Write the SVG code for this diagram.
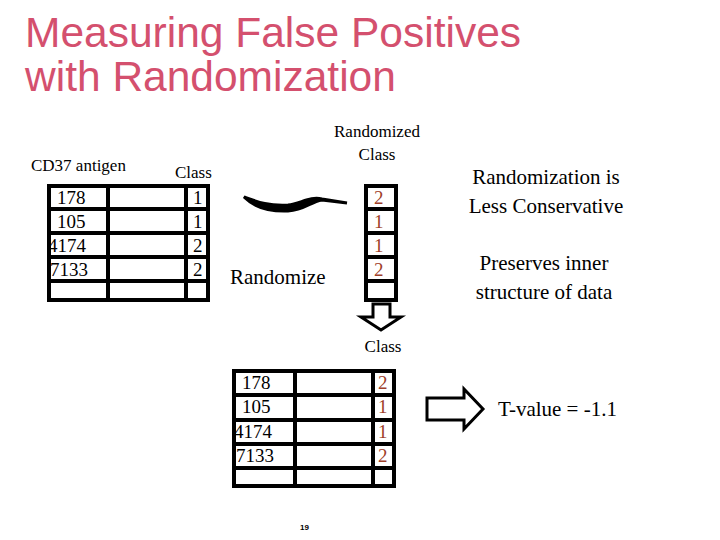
<svg xmlns="http://www.w3.org/2000/svg" width="720" height="540" viewBox="0 0 720 540">
<style>
text{font-family:"Liberation Serif","Times New Roman","DejaVu Serif",serif}
.t{fill:#000}
.r{fill:#a0402a}
.g{fill:none;stroke:#000;stroke-width:4}
text.ttl{font-family:"Liberation Sans",Arial,sans-serif;font-size:42.5px;fill:#d4506e}
</style>
<rect width="720" height="540" fill="#fff"/>
<text class="ttl" x="25" y="47">Measuring False Positives</text>
<text class="ttl" x="25" y="91">with Randomization</text>
<g id="table1">
<text class="t" x="31" y="171" font-size="17">CD37 antigen</text>
<text class="t" x="175" y="178" font-size="17">Class</text>
<rect class="g" x="49" y="186" width="159" height="114"/>
<path class="g" d="M108 186V300M186 186V300M49 209H208M49 233H208M49 257H208M49 281H208"/>
<g class="t" font-size="19"><text x="57" y="204">178</text><text x="57" y="228">105</text><text x="48" y="252">4174</text><text x="50" y="276">7133</text>
<text x="193" y="204">1</text><text x="193" y="228">1</text><text x="193" y="252">2</text><text x="193" y="276">2</text></g>
</g>
<g id="rand">
<text class="t" x="377" y="137" font-size="17" text-anchor="middle">Randomized</text>
<text class="t" x="377" y="160" font-size="17" text-anchor="middle">Class</text>
<rect class="g" x="366" y="186" width="30" height="114"/>
<path class="g" d="M366 209H396M366 233H396M366 257H396M366 281H396"/>
<g class="r" font-size="19"><text x="374" y="204">2</text><text x="374" y="228">1</text><text x="374" y="252">1</text><text x="374" y="276">2</text></g>
</g>
<g id="table2">
<text class="t" x="383" y="352" font-size="17" text-anchor="middle">Class</text>
<rect class="g" x="234" y="371" width="160" height="115"/>
<path class="g" d="M295 371V486M373 371V486M234 395H394M234 420H394M234 444H394M234 468H394"/>
<g class="t" font-size="19"><text x="242" y="389">178</text><text x="242" y="413">105</text><text x="234" y="438">4174</text><text x="236" y="462">7133</text></g>
<g class="r" font-size="19"><text x="378" y="389">2</text><text x="378" y="413">1</text><text x="378" y="438">1</text><text x="378" y="462">2</text></g>
<text x="300" y="530" style="font-family:'Liberation Sans',sans-serif" font-size="8" font-weight="bold">19</text>
</g>
<g id="notes" class="t">
<text x="546" y="184" font-size="21" text-anchor="middle">Randomization is</text>
<text x="546" y="213" font-size="21" text-anchor="middle">Less Conservative</text>
<text x="544" y="270" font-size="21" text-anchor="middle">Preserves inner</text>
<text x="544" y="299" font-size="21" text-anchor="middle">structure of data</text>
<text x="230" y="284" font-size="21">Randomize</text>
<text x="498" y="416" font-size="21">T-value = -1.1</text>
</g>
<g id="connectors">
<path d="M244 197C250 203 262 212 288 211C305 210 310 202 322 200L347 203L322 199C310 196 300 204 288 205C268 206 258 202 244 197Z" fill="#000" stroke="#000" stroke-width="3"/>
<path d="M373 304H390V317H401L381 330L361 317H373Z" fill="#fff" stroke="#000" stroke-width="3"/>
<path d="M427 398H464V389L483 409L464 429V420H427Z" fill="#fff" stroke="#000" stroke-width="3"/>
</g>
</svg>
